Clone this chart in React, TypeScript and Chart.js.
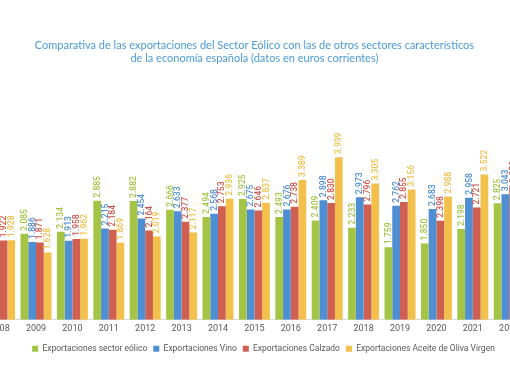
import React, { useEffect, useRef } from "react";
import { Chart, registerables } from "chart.js";

Chart.register(...registerables);

const years = ["2008","2009","2010","2011","2012","2013","2014","2015","2016","2017","2018","2019","2020","2021","2022"];
const eolico = [2.3, 2.085, 2.134, 2.885, 2.882, 2.666, 2.494, 2.925, 2.493, 2.409, 2.233, 1.759, 1.85, 2.198, 2.825];
const vino = [1.9, 1.886, 1.913, 2.215, 2.454, 2.633, 2.568, 2.675, 2.676, 2.898, 2.973, 2.762, 2.683, 2.958, 3.043];
const calzado = [1.922, 1.871, 1.958, 2.184, 2.164, 2.377, 2.753, 2.646, 2.738, 2.83, 2.796, 2.855, 2.398, 2.721, 3.25];
const aceite = [1.928, 1.628, 1.962, 1.869, 2.019, 2.117, 2.936, 2.837, 3.389, 3.939, 3.305, 3.156, 2.988, 3.522, 3.4];

const seriesNames = [
  "Exportaciones sector eólico",
  "Exportaciones Vino",
  "Exportaciones Calzado",
  "Exportaciones Aceite de Oliva Virgen",
];
const barColors = ["#a3c444", "#4e8fd4", "#cf5f50", "#f2c04b"];
const labelColors = ["#a3c444", "#4a8cd6", "#d0524a", "#f0bf45"];
const titleLines = [
  "Comparativa de las exportaciones del Sector Eólico con las de otros sectores característicos",
  "de la economía española (datos en euros corrientes)",
];

const valueLabels = {
  id: "valueLabels",
  afterDatasetsDraw(chart: any) {
    const ctx = chart.ctx;
    ctx.save();
    ctx.font = "500 8.5px Roboto";
    ctx.textAlign = "left";
    ctx.textBaseline = "middle";
    chart.data.datasets.forEach((ds: any, i: number) => {
      const meta = chart.getDatasetMeta(i);
      ctx.fillStyle = labelColors[i];
      meta.data.forEach((el: any, j: number) => {
        const v = ds.data[j];
        ctx.save();
        ctx.translate(el.x, el.y - 3);
        ctx.rotate(-Math.PI / 2);
        ctx.fillText(v.toFixed(3), 0, 0.5);
        ctx.restore();
      });
    });
    ctx.restore();
  },
};

export default function App() {
  const ref = useRef<HTMLCanvasElement>(null);
  useEffect(() => {
    const data = [eolico, vino, calzado, aceite];
    const chart = new Chart(ref.current!, {
      type: "bar",
      data: {
        labels: years,
        datasets: data.map((d, i) => ({
          label: seriesNames[i],
          data: d,
          backgroundColor: barColors[i],
          borderWidth: 0,
          barPercentage: 1,
          categoryPercentage: 0.85,
        })),
      },
      options: {
        responsive: false,
        animation: false,
        layout: { padding: { left: 1.4, right: 1.4, top: 0, bottom: 19 } },
        plugins: {
          title: {
            display: true,
            fullSize: false,
            text: titleLines,
            color: "#4b9bd8",
            font: { family: "Lato", size: 11, weight: "normal", lineHeight: 1.18 },
            padding: { top: 39, bottom: 28 },
          },
          legend: {
            position: "bottom",
            labels: {
              boxWidth: 6,
              boxHeight: 6,
              padding: 6,
              color: "#595959",
              font: { family: "Roboto", size: 8.5 },
            },
          },
          tooltip: { enabled: false },
        },
        scales: {
          x: {
            grid: { display: false, drawTicks: false },
            border: { display: true, color: "#d9d9d9" },
            ticks: { color: "#595959", font: { family: "Roboto", size: 9 }, padding: 4, maxRotation: 0 },
          },
          y: {
            display: true,
            position: "right",
            min: 0,
            max: 5.5,
            grid: { display: false, drawTicks: false },
            border: { display: false },
            ticks: { display: false },
            afterFit: (s: any) => { s.width = 18.2; },
          },
        },
      },
      plugins: [valueLabels],
    });
    return () => chart.destroy();
  }, []);
  return (
    <div style={{ position: "fixed", left: 0, top: 0, width: 510, height: 382, overflow: "hidden", background: "#fff" }}>
      <canvas ref={ref} width={567} height={382} style={{ position: "absolute", left: -20, top: 0 }} />
    </div>
  );
}
